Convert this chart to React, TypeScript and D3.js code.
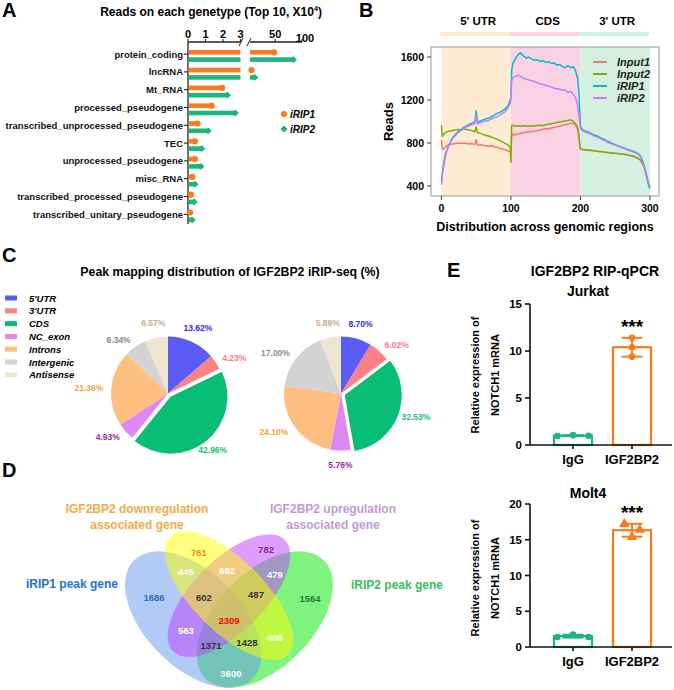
import React from 'react';
import * as d3 from 'd3';

const FONT = '"Liberation Sans", Arial, Helvetica, sans-serif';
const ORANGE = '#fb7a1c';
const GREEN = '#1db57a';

// ---------- A: reads per gene type (x10^4)
const geneTypes = [
  'protein_coding', 'lncRNA', 'Mt_RNA', 'processed_pseudogene',
  'transcribed_unprocessed_pseudogene', 'TEC', 'unprocessed_pseudogene',
  'misc_RNA', 'transcribed_processed_pseudogene', 'transcribed_unitary_pseudogene',
];
const readsRIP1 = [48, 6, 1.95, 1.35, 0.55, 0.4, 0.4, 0.25, 0.17, 0.12];
const readsRIP2 = [84, 12, 2.25, 2.7, 1.15, 0.78, 0.74, 0.4, 0.35, 0.24];
const lowTicks = [0, 1, 2, 3];
const highTicks = [50, 100];

// ---------- B: metagene coverage
const binPos = [
  0, 1, 2, 4, 6, 8, 10, 13, 16, 20, 24, 28, 32, 36, 40, 44, 48, 50, 52, 56, 60, 64, 68, 72, 76, 80, 84, 88, 92, 96, 99,
  100, 101, 103, 106, 110, 114, 118, 122, 126, 130, 134, 138, 142, 146, 150, 154, 158, 162, 166, 170, 174, 178, 182, 186, 190, 193, 196, 198, 199,
  200, 201, 203, 206, 210, 214, 218, 222, 226, 230, 234, 238, 242, 246, 250, 254, 258, 262, 266, 270, 274, 278, 282, 286, 290, 293, 296, 298, 300,
];
const input1 = [
  830, 760, 740, 750, 765, 775, 780, 785, 790, 795, 800, 795, 800, 795, 790, 795, 785, 830, 780, 785, 780, 775, 770, 775, 765, 760, 750, 745, 735, 725, 715,
  720, 870, 880, 875, 885, 890, 895, 900, 905, 905, 910, 915, 920, 925, 935, 930, 940, 945, 950, 955, 965, 970, 975, 985, 980, 965, 930, 850, 770,
  745, 740, 738, 735, 732, 730, 728, 725, 720, 718, 715, 712, 710, 705, 705, 700, 698, 695, 690, 685, 680, 672, 658, 642, 602, 552, 470, 420, 395,
];
const input2 = [
  965, 860, 870, 890, 900, 905, 910, 915, 915, 920, 925, 920, 930, 925, 920, 915, 905, 950, 895, 890, 880, 870, 865, 855, 845, 835, 820, 810, 795, 780, 760,
  620, 960, 965, 955, 960, 955, 960, 958, 955, 960, 958, 962, 965, 960, 970, 975, 980, 985, 990, 995, 1000, 1005, 1010, 1015, 1000, 980, 940, 860, 780,
  750, 745, 742, 740, 738, 735, 730, 728, 722, 720, 716, 714, 710, 707, 704, 702, 698, 695, 692, 686, 682, 674, 660, 644, 604, 550, 468, 418, 392,
];
const irip1 = [
  440, 500, 560, 640, 700, 740, 770, 810, 850, 880, 905, 925, 945, 960, 975, 985, 995, 1100, 990, 1005, 1015, 1025, 1030, 1045, 1060, 1075, 1085, 1100, 1120, 1150, 1200,
  1230, 1480, 1540, 1580, 1620, 1640, 1610, 1590, 1600, 1580, 1570, 1575, 1560, 1565, 1550, 1555, 1540, 1545, 1525, 1530, 1510, 1500, 1520, 1500, 1510, 1470, 1400, 1250, 1080,
  960, 940, 925, 915, 905, 895, 880, 870, 860, 845, 835, 820, 810, 795, 785, 775, 765, 755, 745, 735, 728, 718, 705, 685, 625, 555, 460, 410, 375,
];
const irip2 = [
  410, 470, 530, 610, 680, 730, 765, 805, 840, 870, 895, 915, 935, 950, 960, 970, 980, 1060, 975, 990, 1000, 1005, 1010, 1025, 1035, 1045, 1060, 1075, 1095, 1130, 1170,
  1200, 1380, 1410, 1420, 1430, 1420, 1400, 1395, 1385, 1380, 1370, 1360, 1350, 1345, 1335, 1330, 1320, 1310, 1305, 1300, 1290, 1295, 1270, 1280, 1250, 1220, 1150, 1050, 980,
  940, 925, 915, 905, 895, 885, 870, 860, 850, 835, 825, 810, 800, 790, 780, 770, 760, 750, 740, 730, 722, 712, 700, 678, 622, 555, 470, 420, 398,
];
const coverageNames = ['Input1', 'Input2', 'iRIP1', 'iRIP2'];
const coverageColors = ['#f8766d', '#7cae00', '#00bfc4', '#c77cff'];
const regionNames = ["5' UTR", 'CDS', "3' UTR"];
const regionBounds = [0, 100, 200, 300];
const regionColors = ['#fdebd3', '#f9d2e4', '#d4f0e0'];
const readTicks = [400, 800, 1200, 1600];
const binTicks = [0, 100, 200, 300];

// ---------- C: peak distribution (%)
const peakTypes = ["5'UTR", "3'UTR", 'CDS', 'NC_exon', 'Introns', 'Intergenic', 'Antisense'];
const peakRIP1 = [13.62, 4.23, 42.96, 4.93, 21.36, 6.34, 6.57];
const peakRIP2 = [8.70, 6.02, 32.53, 5.76, 24.10, 17.00, 5.89];
const peakColors = ['#5b5bf5', '#fa8282', '#08bd74', '#dd88f5', '#fdbf80', '#d3d3d3', '#ede5cf'];
const peakLabelColors = ['#2a2aff', '#f77c7c', '#1fbd7c', '#9a2a9a', '#f5a040', '#8a8a8a', '#c9ad8c'];

// ---------- D: venn counts
const vennSetNames = ['iRIP2 peak gene', 'iRIP1 peak gene', 'IGF2BP2 upregulation', 'IGF2BP2 downregulation'];
const vennCounts = [761, 782, 445, 682, 479, 1686, 602, 487, 1564, 2309, 563, 408, 1371, 1428, 3600];
const vennCountColors = ['#f08a24', '#8b2c8e', '#fff', '#fff', '#fff', '#2a6cc4', '#333', '#333', '#1e7a3c', '#ff0000', '#fff', '#fff', '#333', '#333', '#fff'];

// ---------- E: RIP-qPCR
const qpcrGroups = ['IgG', 'IGF2BP2'];
const jurkatIgG = [0.96, 1.05, 0.99];
const jurkatIGF = [11.4, 10.4, 9.4];
const molt4IgG = [1.4, 1.75, 1.4];
const molt4IGF = [17.2, 16.4, 15.4];
const jurkatTicks = [0, 5, 10, 15];
const molt4Ticks = [0, 5, 10, 15, 20];

function PanelA() {
  const y = d3.scaleBand<string>().domain(geneTypes).range([47, 225]);
  const lowX = d3.scaleLinear().domain([0, 3]).range([188, 240.5]);
  const highX = d3.scaleLinear().domain([3, 100]).range([250, 302]);
  const axisY = 42;
  const barH = 4.6;
  const series = [
    { name: 'iRIP1', values: readsRIP1, color: ORANGE, off: -3.6 },
    { name: 'iRIP2', values: readsRIP2, color: GREEN, off: 3.7 },
  ];
  const marker = (name: string, cx: number, cy: number, color: string, key?: string) =>
    name === 'iRIP1'
      ? <circle key={key} cx={cx} cy={cy} r={3.1} fill={color} />
      : <path key={key} d={`M${cx},${cy - 3.4}L${cx + 3.6},${cy}L${cx},${cy + 3.4}L${cx - 3.6},${cy}Z`} fill={color} />;

  return (
    <g>
      <text x={2} y={17} fontSize={20} fontWeight="bold">A</text>
      <text x={211} y={16} fontSize={12} fontWeight="bold" textAnchor="middle">
        Reads on each genetype (Top 10, X10<tspan fontSize={7} dy={-5}>4</tspan><tspan dy={5}>)</tspan>
      </text>
      {/* top axis with break */}
      <line x1={188} x2={240.5} y1={axisY} y2={axisY} stroke="#222" strokeWidth={1.3} />
      <line x1={250} x2={302} y1={axisY} y2={axisY} stroke="#222" strokeWidth={1.3} />
      {lowTicks.map(t => (
        <g key={t}>
          <line x1={lowX(t)} x2={lowX(t)} y1={axisY} y2={axisY - 3} stroke="#222" strokeWidth={1.1} />
          <text x={lowX(t)} y={38} fontSize={11} fontWeight="bold" textAnchor="middle">{t}</text>
        </g>
      ))}
      {highTicks.map(t => (
        <g key={t}>
          <line x1={highX(t)} x2={highX(t)} y1={axisY} y2={axisY - 3} stroke="#222" strokeWidth={1.1} />
          <text x={highX(t) + (t === 100 ? 3 : 0)} y={t === 100 ? 41.5 : 38} fontSize={11} fontWeight="bold" textAnchor="middle">{t}</text>
        </g>
      ))}
      <line x1={239} y1={46} x2={243} y2={38} stroke="#222" strokeWidth={1} />
      <line x1={247} y1={46} x2={251} y2={38} stroke="#222" strokeWidth={1} />
      {/* y axis */}
      <line x1={188} x2={188} y1={axisY} y2={224} stroke="#222" strokeWidth={1.3} />
      {geneTypes.map(g => {
        const cy = y(g)! + y.bandwidth() / 2 - 1.8;
        return (
          <g key={g}>
            <line x1={184} x2={188} y1={cy} y2={cy} stroke="#222" strokeWidth={1.1} />
            <text x={183} y={cy} fontSize={9.5} fontWeight="bold" textAnchor="end" dominantBaseline="central" fill="#111">{g}</text>
          </g>
        );
      })}
      {series.map(s => geneTypes.map((g, i) => {
        const v = s.values[i];
        const cy = y(g)! + y.bandwidth() / 2 + s.off;
        if (v <= 3) {
          return (
            <g key={s.name + g}>
              <rect x={188.7} y={cy - barH / 2} width={lowX(v) - 188.7} height={barH} fill={s.color} />
              {marker(s.name, lowX(v), cy, s.color)}
            </g>
          );
        }
        return (
          <g key={s.name + g}>
            <rect x={188.7} y={cy - barH / 2} width={lowX(3) - 188.7} height={barH} fill={s.color} />
            <rect x={highX(3)} y={cy - barH / 2} width={highX(v) - highX(3)} height={barH} fill={s.color} />
            {marker(s.name, highX(v), cy, s.color)}
          </g>
        );
      }))}
      {/* legend */}
      {series.map((s, i) => (
        <g key={s.name}>
          {marker(s.name, 284, 114 + i * 15, s.color)}
          <text x={290} y={118 + i * 15} fontSize={10} fontWeight="bold" fontStyle="italic">{s.name}</text>
        </g>
      ))}
    </g>
  );
}

function PanelB() {
  const x = d3.scaleLinear().domain([-15, 313]).range([431, 659]);
  const y = d3.scaleLinear().domain([307, 1693]).range([196, 47]);
  const line = d3.line<number>().x((_, i) => x(binPos[i])).y(d => y(d));
  const lines = [input1, input2, irip1, irip2];
  const [top, bottom] = [47, 196];
  return (
    <g>
      <text x={359} y={17} fontSize={20} fontWeight="bold">B</text>
      {regionNames.map((r, i) => {
        const x0 = x(regionBounds[i]);
        const x1 = x(regionBounds[i + 1]);
        return (
          <g key={r}>
            <text x={(x0 + x1) / 2 + 2} y={25} fontSize={11.5} fontWeight="bold" textAnchor="middle">{r}</text>
            <rect x={x0 - 1} y={32} width={x1 - x0} height={4} fill={regionColors[i]} style={{ filter: 'saturate(1.3)' }} />
            <rect x={x0} y={top} width={x1 - x0} height={bottom - top} fill={regionColors[i]} />
          </g>
        );
      })}
      {lines.map((l, i) => (
        <path key={i} d={line(l)!} fill="none" stroke={coverageColors[i]} strokeWidth={1.5} strokeLinejoin="round" />
      ))}
      <rect x={431} y={top} width={228} height={bottom - top} fill="none" stroke="#9a9a9a" strokeWidth={1} />
      {readTicks.map(t => (
        <g key={t}>
          <line x1={427} x2={431} y1={y(t)} y2={y(t)} stroke="#444" />
          <text x={424} y={y(t)} fontSize={10.5} fontWeight="bold" textAnchor="end" dominantBaseline="central">{t}</text>
        </g>
      ))}
      {binTicks.map(t => (
        <g key={t}>
          <line x1={x(t)} x2={x(t)} y1={bottom} y2={bottom + 4} stroke="#444" />
          <text x={x(t)} y={212} fontSize={10.5} fontWeight="bold" textAnchor="middle">{t}</text>
        </g>
      ))}
      <text transform={`translate(393,${(top + bottom) / 2}) rotate(-90)`} fontSize={13} fontWeight="bold" textAnchor="middle">Reads</text>
      <text x={545} y={231} fontSize={12.5} fontWeight="bold" textAnchor="middle">Distribution across genomic regions</text>
      {coverageNames.map((n, i) => (
        <g key={n}>
          <line x1={593} x2={607} y1={62 + i * 12} y2={62 + i * 12} stroke={coverageColors[i]} strokeWidth={2} />
          <text x={617} y={62 + i * 12} fontSize={11} fontWeight="bold" fontStyle="italic" dominantBaseline="central" fill="#222">{n}</text>
        </g>
      ))}
    </g>
  );
}

function PanelC() {
  const r = 57;
  const cy = 393.5;
  const pie = d3.pie<number>().sort(null).value(d => d);
  const arc = d3.arc<d3.PieArcDatum<number>>().innerRadius(0).outerRadius(r);
  const sideArc = d3.arc<d3.PieArcDatum<number>>().innerRadius(r + 8).outerRadius(r + 8);
  const midArc = d3.arc<d3.PieArcDatum<number>>().innerRadius(r + 15).outerRadius(r + 15);
  const pies = [{ cx: 168, data: peakRIP1 }, { cx: 341, data: peakRIP2 }];
  return (
    <g>
      <text x={2} y={262} fontSize={20} fontWeight="bold">C</text>
      <text x={230} y={276} fontSize={12.3} fontWeight="bold" textAnchor="middle">Peak mapping distribution of IGF2BP2 iRIP-seq (%)</text>
      {peakTypes.map((p, i) => (
        <g key={p}>
          <rect x={5} y={298 + i * 12.8 - 2.5} width={12} height={5} fill={peakColors[i]} />
          <text x={29} y={298 + i * 12.8} fontSize={9.5} fontWeight="bold" fontStyle="italic" dominantBaseline="central">{p}</text>
        </g>
      ))}
      {pies.map((p, k) => {
        const arcs = pie(p.data);
        return (
          <g key={k} transform={`translate(${p.cx},${cy})`}>
            {arcs.map((a, i) => {
              let tx = 0, ty = 0;
              if (peakTypes[i] === 'CDS') {
                const [mx, my] = arc.centroid(a);
                const len = Math.hypot(mx, my);
                tx = (mx / len) * 4;
                ty = (my / len) * 4;
              }
              return <path key={i} d={arc(a)!} fill={peakColors[i]} transform={`translate(${tx},${ty})`} />;
            })}
            {arcs.map((a, i) => {
              const s = Math.sin((a.startAngle + a.endAngle) / 2);
              const anchor = s > 0.65 ? 'start' : s < -0.5 ? 'end' : 'middle';
              const [lx, ly] = (anchor === 'middle' ? midArc : sideArc).centroid(a);
              return (
                <text key={'l' + i} x={lx} y={ly} fontSize={8.5} fontWeight="bold" textAnchor={anchor} dominantBaseline="central" fill={peakLabelColors[i]}>
                  {p.data[i].toFixed(2)}%
                </text>
              );
            })}
          </g>
        );
      })}
    </g>
  );
}

// venn layout in unit coordinates (VennDiagram quad layout)
const vennShapes = [
  { cx: 0.65, cy: 0.47, a: 0.35, b: 0.2, rot: -45, fill: '#00e600' },
  { cx: 0.35, cy: 0.47, a: 0.35, b: 0.2, rot: 45, fill: '#6495ed' },
  { cx: 0.5, cy: 0.57, a: 0.33, b: 0.15, rot: -45, fill: '#bf3eff' },
  { cx: 0.5, cy: 0.57, a: 0.35, b: 0.15, rot: 45, fill: '#ffff00' },
];
const vennCountPos = [
  [0.374, 0.752], [0.655, 0.761], [0.32, 0.669], [0.492, 0.677], [0.692, 0.66],
  [0.186, 0.564], [0.395, 0.56], [0.613, 0.573], [0.839, 0.556], [0.5, 0.464],
  [0.32, 0.426], [0.692, 0.393], [0.425, 0.363], [0.575, 0.372], [0.508, 0.246],
];

function PanelD() {
  const s = 239;
  const vx = d3.scaleLinear().domain([0, 1]).range([229 - 0.5 * s, 229 + 0.5 * s]);
  const vy = d3.scaleLinear().domain([0, 1]).range([619.5 + 0.47 * s, 619.5 - 0.53 * s]);
  return (
    <g>
      <text x={2} y={477} fontSize={20} fontWeight="bold">D</text>
      {vennShapes.map((e, i) => (
        <ellipse key={i} cx={0} cy={0} rx={e.a * s} ry={e.b * s} fill={e.fill} fillOpacity={0.5}
          transform={`translate(${vx(e.cx)},${vy(e.cy)}) rotate(${e.rot})`} />
      ))}
      {vennCounts.map((c, i) => (
        <text key={i} x={vx(vennCountPos[i][0])} y={vy(vennCountPos[i][1])} fontSize={9.5} fontWeight="bold"
          textAnchor="middle" dominantBaseline="central" fill={vennCountColors[i]}>{c}</text>
      ))}
      <text x={vx(-0.157)} y={vy(0.619)} fontSize={12} fontWeight="bold" fill="#2472c8" textAnchor="middle" dominantBaseline="central">{vennSetNames[1]}</text>
      <text x={vx(1.203)} y={vy(0.614)} fontSize={12} fontWeight="bold" fill="#35c060" textAnchor="middle" dominantBaseline="central">{vennSetNames[0]}</text>
      <text x={vx(0.115)} y={vy(0.932)} fontSize={12} fontWeight="bold" fill="#f6a945" textAnchor="middle" dominantBaseline="central">
        <tspan x={vx(0.115)}>{vennSetNames[3]}</tspan>
        <tspan x={vx(0.115)} dy={15.5}>associated gene</tspan>
      </text>
      <text x={vx(0.935)} y={vy(0.932)} fontSize={12} fontWeight="bold" fill="#c697d8" textAnchor="middle" dominantBaseline="central">
        <tspan x={vx(0.935)}>{vennSetNames[2]}</tspan>
        <tspan x={vx(0.935)} dy={15.5}>associated gene</tspan>
      </text>
    </g>
  );
}

function swarm(vals: number[], y: (v: number) => number, gap: number, step: number) {
  const ys = vals.map(y);
  const groups: number[][] = [];
  ys.forEach((yy, i) => {
    const g = groups.find(gr => gr.some(j => Math.abs(ys[j] - yy) < gap));
    if (g) g.push(i); else groups.push([i]);
  });
  const offs = vals.map(() => 0);
  groups.forEach(g => g.forEach((idx, k) => { offs[idx] = (k - (g.length - 1) / 2) * step; }));
  return offs;
}

function QPCR({ igg, igf, ticks, yRange, sub, subY, triangle, titleY }: {
  igg: number[]; igf: number[]; ticks: number[]; yRange: [number, number]; sub: string; subY: number; triangle: boolean; titleY: number;
}) {
  const x = d3.scalePoint<string>().domain(qpcrGroups).range([573, 632]);
  const y = d3.scaleLinear().domain([0, ticks[ticks.length - 1]]).range(yRange);
  const axisX = 530;
  const groups = [
    { name: 'IgG', vals: igg, color: GREEN, tri: false },
    { name: 'IGF2BP2', vals: igf, color: ORANGE, tri: triangle },
  ];
  const tri = d3.symbol().type(d3.symbolTriangle).size(48)()!;
  return (
    <g>
      <text x={588} y={subY} fontSize={14} fontWeight="bold" textAnchor="middle">{sub}</text>
      {groups.map(g => {
        const mean = d3.mean(g.vals)!;
        const sd = d3.deviation(g.vals)!;
        const cx = x(g.name)!;
        const offs = swarm(g.vals, y, 7, 15.5);
        return (
          <g key={g.name}>
            <rect x={cx - 19} y={y(mean)} width={38} height={y(0) - y(mean)} fill="#fff" stroke={g.color} strokeWidth={2.2} />
            <line x1={cx} x2={cx} y1={y(mean - sd)} y2={y(mean + sd)} stroke={g.color} strokeWidth={2} />
            <line x1={cx - 10.5} x2={cx + 10.5} y1={y(mean + sd)} y2={y(mean + sd)} stroke={g.color} strokeWidth={2} />
            <line x1={cx - 10.5} x2={cx + 10.5} y1={y(mean - sd)} y2={y(mean - sd)} stroke={g.color} strokeWidth={2} />
            {g.vals.map((v, i) => g.tri
              ? <path key={i} d={tri} transform={`translate(${cx + offs[i]},${y(v)})`} fill={g.color} />
              : <circle key={i} cx={cx + offs[i]} cy={y(v)} r={3.3} fill={g.color} />)}
            {g.name === 'IGF2BP2' && (
              <text x={cx} y={y(mean + sd) - 5} fontSize={19} fontWeight="bold" textAnchor="middle">***</text>
            )}
          </g>
        );
      })}
      <line x1={axisX} x2={axisX} y1={y(0)} y2={y(ticks[ticks.length - 1])} stroke="#111" strokeWidth={1.6} />
      <line x1={axisX} x2={672} y1={y(0)} y2={y(0)} stroke="#111" strokeWidth={1.6} />
      {ticks.map(t => (
        <g key={t}>
          <line x1={axisX - 5} x2={axisX} y1={y(t)} y2={y(t)} stroke="#111" strokeWidth={1.6} />
          <text x={axisX - 8} y={y(t)} fontSize={11.5} fontWeight="bold" textAnchor="end" dominantBaseline="central">{t}</text>
        </g>
      ))}
      {qpcrGroups.map(gn => (
        <g key={gn}>
          <line x1={x(gn)} x2={x(gn)} y1={y(0)} y2={y(0) + 4} stroke="#111" strokeWidth={1.6} />
          <text x={x(gn)} y={y(0) + 19} fontSize={13} fontWeight="bold" textAnchor="middle">{gn}</text>
        </g>
      ))}
      <text transform={`translate(479,${titleY}) rotate(-90)`} fontSize={11} fontWeight="bold" textAnchor="middle">Relative expression of</text>
      <text transform={`translate(498.5,${titleY}) rotate(-90)`} fontSize={11} fontWeight="bold" textAnchor="middle">NOTCH1 mRNA</text>
    </g>
  );
}

function PanelE() {
  return (
    <g>
      <text x={447} y={277} fontSize={20} fontWeight="bold">E</text>
      <text x={595} y={276} fontSize={14} fontWeight="bold" textAnchor="middle">IGF2BP2 RIP-qPCR</text>
      <QPCR igg={jurkatIgG} igf={jurkatIGF} ticks={jurkatTicks} yRange={[445, 304]} sub="Jurkat" subY={296} triangle={false} titleY={375} />
      <QPCR igg={molt4IgG} igf={molt4IGF} ticks={molt4Ticks} yRange={[647, 504]} sub="Molt4" subY={498} triangle={true} titleY={578} />
    </g>
  );
}

export default function App() {
  return (
    <svg width={674} height={690} style={{ position: 'absolute', left: 0, top: 0 }} fontFamily={FONT}>
      <rect width={674} height={690} fill="#fff" />
      <PanelA />
      <PanelB />
      <PanelC />
      <PanelD />
      <PanelE />
    </svg>
  );
}
